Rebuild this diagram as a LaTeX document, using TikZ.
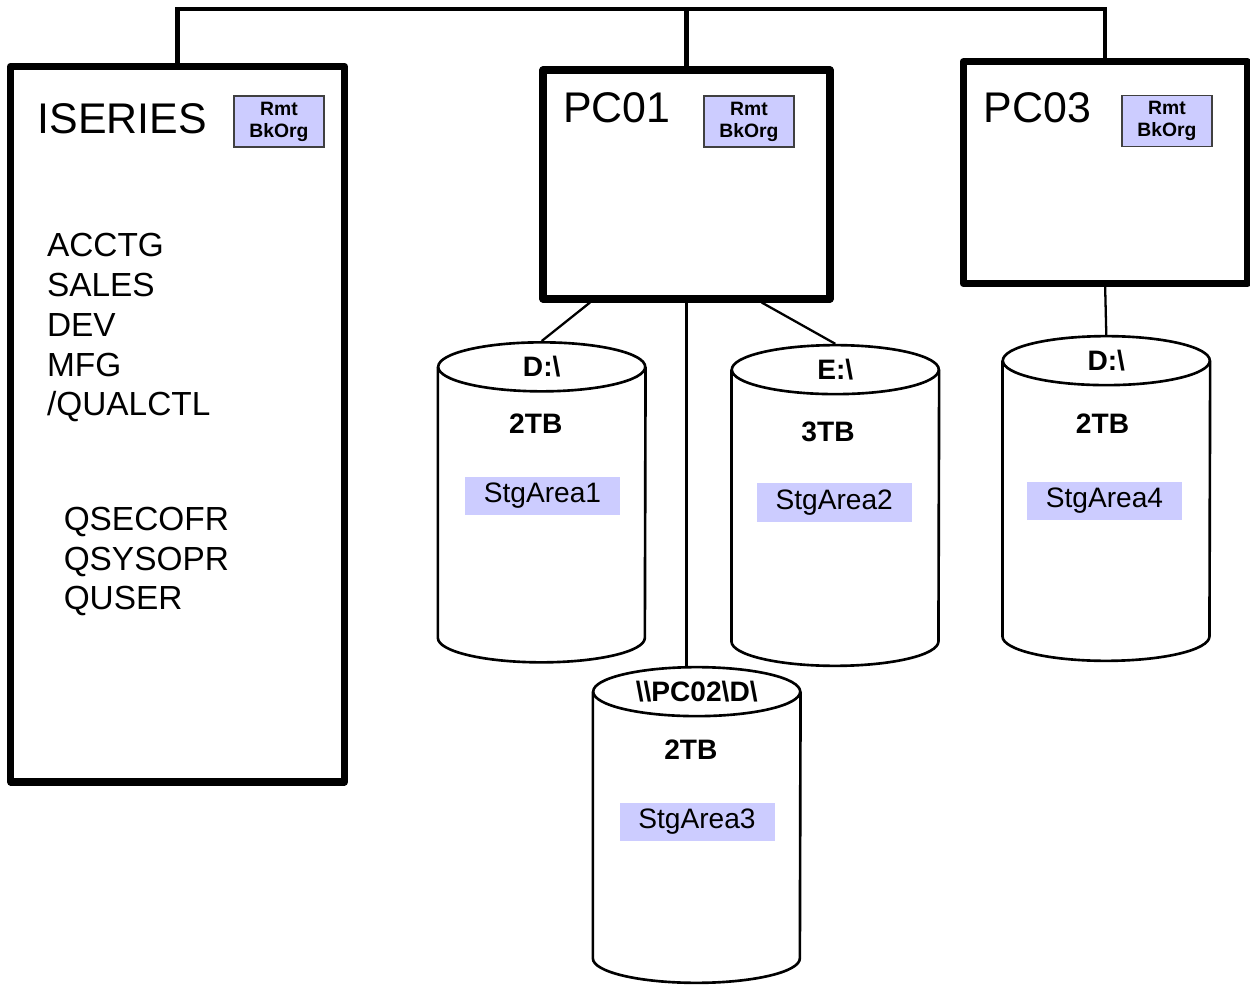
\documentclass[tikz,border=0pt]{standalone}
\usepackage{fontspec}
\setmainfont{Liberation Sans}
\usepackage{tikz}
\usetikzlibrary{shapes.geometric, calc}
\definecolor{StgLilac}{HTML}{CCCCFF}
\definecolor{RmtEdge}{HTML}{404040}
\tikzset{
  % Box styles
  hostbox/.style={rectangle, draw=black, line width=4pt, line join=round, inner sep=0pt},
  rmtbox/.style={rectangle, draw=RmtEdge, line width=0.8pt, fill=StgLilac, minimum width=1.8cm, minimum height=1.02cm, inner sep=0pt, align=center, font=\bfseries\fontsize{11}{12.5}\selectfont},
  stgbox/.style={rectangle, fill=StgLilac, minimum width=3.1cm, minimum height=0.77cm, inner sep=0pt, font=\fontsize{16}{19}\selectfont},
  % Drive styles
  drivebody/.style={rectangle, minimum width=4.14cm, inner sep=0pt},
  drivecap/.style={ellipse, draw=black, line width=1.5pt, minimum width=4.14cm, minimum height=0.98cm, inner sep=0pt, font=\bfseries\fontsize{16}{19}\selectfont},
  drivewall/.style={draw=black, line width=1.5pt},
  sizelabel/.style={inner sep=0pt, font=\bfseries\fontsize{16}{19}\selectfont},
  % Text styles
  hosttitle/.style={anchor=west, inner sep=0pt, font=\fontsize{24.4}{28}\selectfont},
  liblist/.style={anchor=base west, inner sep=0pt, align=left, font=\fontsize{19}{22.7}\selectfont},
  % Line styles
  busline/.style={draw=black, line width=2.6pt},
  link/.style={draw=black, line width=1.3pt}
}
\newcommand{\drivecyl}[1]{%
  \draw[drivewall] (#1.north west) -- (#1.south west)
    arc[start angle=180, end angle=360, x radius=2.07cm, y radius=0.49cm]
    -- (#1.north east);
}

\begin{document}
\begin{tikzpicture}
  \useasboundingbox (0,0) rectangle (25,19.68);

  % Hosts
  \node[hostbox, minimum width=6.676cm, minimum height=14.314cm] (iseries) at (3.552,11.197) {};
  \node[hostbox, minimum width=5.74cm, minimum height=4.58cm] (pc01) at (13.73,15.99) {};
  \node[hostbox, minimum width=5.674cm, minimum height=4.44cm] (pc03) at (22.103,16.226) {};
  \node[hosttitle] (iseriestitle) at (0.75,17.314) {ISERIES};
  \node[hosttitle] (pc01title) at (11.26,17.53) {PC01};
  \node[hosttitle] (pc03title) at (19.67,17.53) {PC03};
  \node[rmtbox] (iseriesrmt) at (5.58,17.25) {Rmt\\BkOrg};
  \node[rmtbox] (pc01rmt) at (14.98,17.25) {Rmt\\BkOrg};
  \node[rmtbox] (pc03rmt) at (23.34,17.26) {Rmt\\BkOrg};

  % Libraries and user profiles (anchored on the last line)
  \node[liblist] (libs) at (0.934,11.36) {ACCTG\\SALES\\DEV\\MFG\\/QUALCTL};
  \node[liblist] (users) at (1.268,7.48) {QSECOFR\\QSYSOPR\\QUSER};

  % Drives
  \node[drivebody, minimum height=5.406cm] (d1) at (10.834,9.633) {};
  \node[drivecap] (d1cap) at (d1.north) {D:\textbackslash};
  \drivecyl{d1}
  \node[drivebody, minimum height=5.42cm] (e1) at (16.706,9.57) {};
  \node[drivecap] (e1cap) at (e1.north) {E:\textbackslash};
  \drivecyl{e1}
  \node[drivebody, minimum height=5.32cm] (d2) at (13.934,3.18) {};
  \node[drivecap] (d2cap) at (d2.north) {\textbackslash\textbackslash PC02\textbackslash D\textbackslash};
  \drivecyl{d2}
  \node[drivebody, minimum height=5.5cm] (d3) at (22.126,9.71) {};
  \node[drivecap] (d3cap) at (d3.north) {D:\textbackslash};
  \drivecyl{d3}

  \node[sizelabel] (d1size) at (10.716,11.2) {2TB};
  \node[sizelabel] (e1size) at (16.56,11.05) {3TB};
  \node[sizelabel] (d2size) at (13.816,4.68) {2TB};
  \node[sizelabel] (d3size) at (22.05,11.206) {2TB};
  \node[stgbox] (stg1) at (10.85,9.764) {StgArea1};
  \node[stgbox] (stg2) at (16.684,9.63) {StgArea2};
  \node[stgbox] (stg3) at (13.94,3.244) {StgArea3};
  \node[stgbox] (stg4) at (22.09,9.664) {StgArea4};

  % Bus and links
  \coordinate (bus) at (13.73,19.5);
  \draw[busline] (iseries.north) |- (bus) -| (pc03.north);
  \draw[busline] (pc01.north) -- (pc01.north |- bus);
  \draw[link] ($(pc01.south)+(-1.93,0)$) -- (d1cap.north);
  \draw[link] ($(pc01.south)+(1.504,0)$) -- (e1cap.north);
  \draw[link] (pc01.south) -- (pc01.south |- d2cap.north);
  \draw[link] (pc03.south) -- (d3cap.north);
\end{tikzpicture}
\end{document}
